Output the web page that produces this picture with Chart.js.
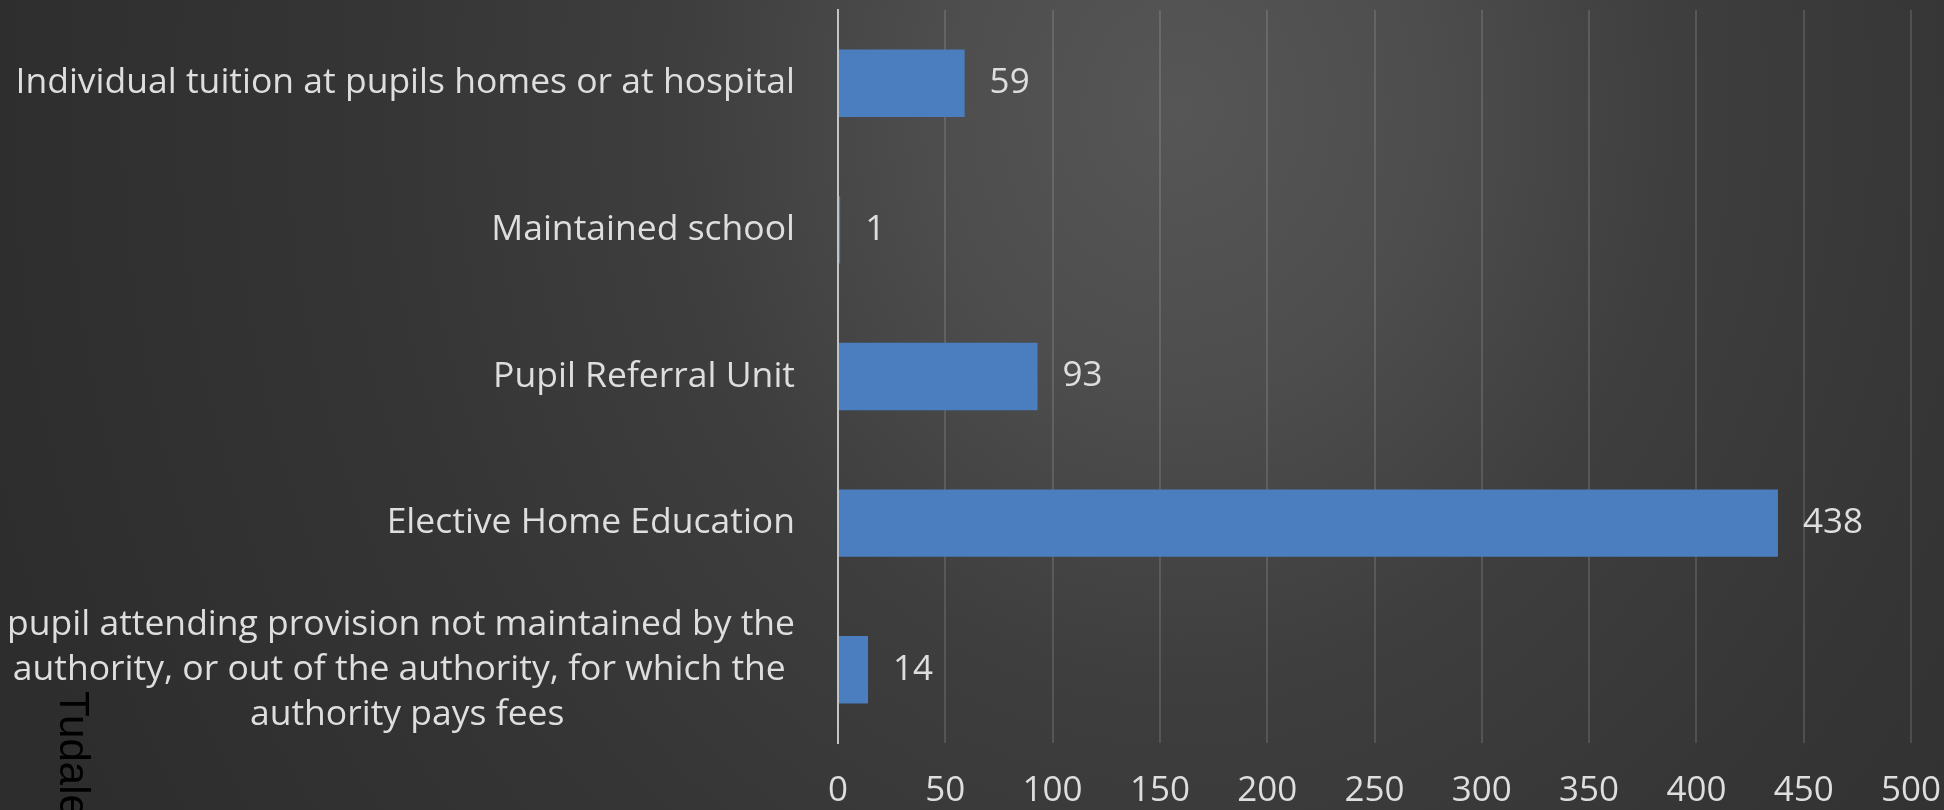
<!DOCTYPE html>
<html>
<head>
<meta charset="utf-8">
<script src="https://cdn.jsdelivr.net/npm/chart.js@4/dist/chart.umd.min.js"></script>
<style>
html,body{margin:0;padding:0;background:#2e2e2e;overflow:hidden}
#wrap{width:1944px;height:810px;position:relative}
</style>
</head>
<body>
<div id="wrap"><canvas id="c" width="1944" height="810"></canvas></div>
<script>
// ---- data ----
const categories = [
  'Individual tuition at pupils homes or at hospital',
  'Maintained school',
  'Pupil Referral Unit',
  'Elective Home Education',
  ['pupil attending provision not maintained by the',
   'authority, or out of the authority, for which the',
   'authority pays fees']
];
const values = [59, 1, 93, 438, 14];
const xTicks = [0, 50, 100, 150, 200, 250, 300, 350, 400, 450, 500];
const pageText = 'Tudalen';

// ---- styling ----
const labelFont = {family: '"Open Sans"', size: 35.5, lineHeight: 1.27};
const textColor = '#dedede';
const barColor = '#4a7ebf';

// centre the lines of a multi-line label inside its own block (right-aligned block)
function centreLines(lbl) {
  if (!Array.isArray(lbl)) return lbl;
  const m = document.createElement('canvas').getContext('2d');
  m.font = labelFont.size + 'px ' + labelFont.family;
  const widths = lbl.map(s => m.measureText(s).width);
  const maxW = Math.max(...widths);
  return lbl.map((s, i) => {
    const target = widths[i] + (maxW - widths[i]) / 2;
    let t = s;
    while (m.measureText(t + ' ').width <= target + 2) t += ' ';
    return t;
  });
}

const bgPlugin = {
  id: 'bg',
  beforeDraw(chart) {
    const {ctx, width, height} = chart;
    ctx.save();
    ctx.fillStyle = '#2d2d2d';
    ctx.fillRect(0, 0, width, height);
    ctx.translate(1180, 110);
    ctx.scale(1, 1.15);
    const g = ctx.createRadialGradient(0, 0, 0, 0, 0, 1250);
    g.addColorStop(0, '#565656');
    g.addColorStop(0.2, '#4d4d4d');
    g.addColorStop(0.4, '#3e3e3e');
    g.addColorStop(0.65, '#353535');
    g.addColorStop(1, '#2d2d2d');
    ctx.fillStyle = g;
    ctx.fillRect(-1300, -200, 2800, 900);
    ctx.restore();
  }
};

const valueLabels = {
  id: 'valueLabels',
  afterDatasetsDraw(chart) {
    const {ctx} = chart;
    const meta = chart.getDatasetMeta(0);
    ctx.save();
    ctx.fillStyle = textColor;
    ctx.font = '35px ' + labelFont.family;
    ctx.textAlign = 'left';
    ctx.textBaseline = 'middle';
    meta.data.forEach((bar, i) => {
      ctx.fillText(String(values[i]), bar.x + 25, bar.y);
    });
    ctx.restore();
  }
};

const pageLabel = {
  id: 'pageLabel',
  afterDraw(chart) {
    const {ctx} = chart;
    ctx.save();
    ctx.translate(60, 691);
    ctx.rotate(Math.PI / 2);
    ctx.fillStyle = '#000000';
    ctx.font = '42px "Liberation Sans"';
    ctx.textAlign = 'left';
    ctx.textBaseline = 'alphabetic';
    ctx.fillText(pageText, 0, 0);
    ctx.restore();
  }
};

new Chart(document.getElementById('c'), {
  type: 'bar',
  data: {
    labels: categories.map(centreLines),
    datasets: [{
      data: values,
      backgroundColor: barColor,
      borderWidth: 0,
      barPercentage: 0.46,
      categoryPercentage: 1
    }]
  },
  options: {
    indexAxis: 'y',
    responsive: false,
    animation: false,
    devicePixelRatio: 1,
    layout: {padding: {top: 10, right: 33, bottom: 0, left: 0}},
    plugins: {legend: {display: false}, tooltip: {enabled: false}},
    scales: {
      x: {
        min: 0, max: 500,
        afterBuildTicks: s => { s.ticks = xTicks.map(v => ({value: v})); },
        grid: {color: 'rgba(255,255,255,0.13)', lineWidth: 2, drawTicks: false},
        border: {display: false},
        ticks: {color: textColor, font: {family: '"Open Sans"', size: 35, lineHeight: 1.0}, padding: 31, maxRotation: 0, autoSkip: false},
        afterFit: s => { s.height = 67; s.paddingLeft = 0; s.paddingRight = 0; }
      },
      y: {
        grid: {color: 'rgba(0,0,0,0)', drawTicks: false},
        border: {display: true, color: '#c4c4c4', width: 2},
        ticks: {color: textColor, font: labelFont, padding: 43, autoSkip: false},
        afterFit: s => { s.width = 838; s.paddingTop = 0; s.paddingBottom = 0; }
      }
    }
  },
  plugins: [bgPlugin, valueLabels, pageLabel]
});
</script>
</body>
</html>
